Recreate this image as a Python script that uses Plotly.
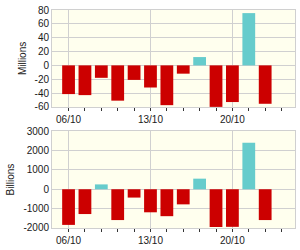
import plotly.graph_objects as go
from plotly.subplots import make_subplots

dates = ["06/10", "07/10", "08/10", "09/10", "10/10", "13/10", "14/10",
         "15/10", "16/10", "17/10", "20/10", "21/10", "22/10", "23/10"]
millions = [-41.5, -43, -18, -51, -21, -32, -57.5, -12, 12, -60, -53, 75.5, -55.5]
billions = [-1840, -1280, 250, -1590, -430, -1190, -1390, -780, 546, -1950, -1940, 2400, -1590]
major_labels = ["06/10", "13/10", "20/10"]
ytick_top = [-60, -40, -20, 0, 20, 40, 60, 80]
ytick_bot = [-2000, -1000, 0, 1000, 2000, 3000]

RED = "#CC0000"
CYAN = "#66CCCC"
GRID = "#D0D0D0"
FONT = dict(family="Liberation Sans, Arial, sans-serif", size=10, color="#1a1a1a")

fig = make_subplots(rows=2, cols=1, vertical_spacing=0.1111)

idx = list(range(len(millions)))
fig.add_trace(go.Bar(x=idx, y=millions, width=0.78,
                     marker=dict(color=[CYAN if v > 0 else RED for v in millions], line_width=0),
                     showlegend=False), row=1, col=1)
fig.add_trace(go.Bar(x=list(range(len(billions))), y=billions, width=0.78,
                     marker=dict(color=[CYAN if v > 0 else RED for v in billions], line_width=0),
                     showlegend=False), row=2, col=1)

major_vals = [dates.index(d) for d in major_labels]
for r in (1, 2):
    fig.update_xaxes(row=r, col=1, range=[-1.01, 13.82], tickmode="array",
                     tickvals=major_vals, ticktext=major_labels,
                     ticks="outside", ticklen=3, tickcolor="#333", tickwidth=1,
                     showgrid=True, gridcolor=GRID, gridwidth=1,
                     showline=True, linecolor=GRID, linewidth=1, mirror=True,
                     zeroline=False, tickfont=FONT,
                     minor=dict(tickmode="array", tickvals=list(range(len(dates))),
                                ticks="outside", ticklen=3, tickcolor="#333",
                                showgrid=False))

fig.update_yaxes(row=1, col=1, range=[-60, 80], tickmode="array",
                 tickvals=ytick_top, ticktext=[str(v) for v in ytick_top],
                 title=dict(text="Millions", font=FONT, standoff=6))
fig.update_yaxes(row=2, col=1, range=[-2000, 3000], tickmode="array",
                 tickvals=ytick_bot, ticktext=[str(v) for v in ytick_bot],
                 title=dict(text="Billions", font=FONT, standoff=6))
fig.update_yaxes(showgrid=True, gridcolor=GRID, gridwidth=1,
                 showline=True, linecolor=GRID, linewidth=1, mirror=True,
                 zeroline=False, ticks="", tickfont=FONT, ticklabelstandoff=0)

fig.update_layout(width=300, height=250, margin=dict(l=52, r=4, t=7, b=18),
                  plot_bgcolor="#FFFFEE", paper_bgcolor="white",
                  bargap=0.2, showlegend=False)

fig.write_html("out.html")
